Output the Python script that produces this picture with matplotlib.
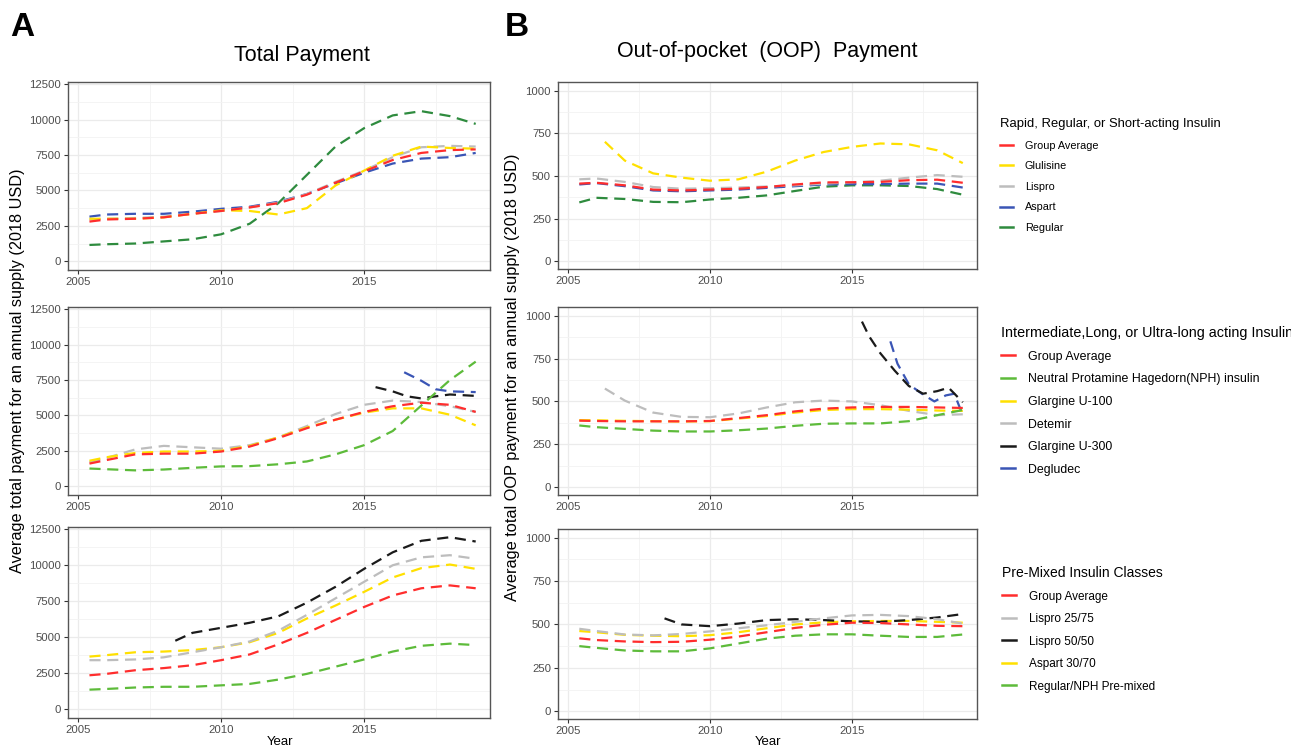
import matplotlib.pyplot as plt
from matplotlib.lines import Line2D
from matplotlib.ticker import FormatStrFormatter

plt.rcParams['font.family'] = ['Liberation Sans', 'DejaVu Sans']

# ---------------------------------------------------------------- data
YEARS = [2005.4, 2006, 2007, 2008, 2009, 2010, 2011, 2012, 2013, 2014, 2015, 2016, 2017, 2018, 2018.9]

RAPID_LABELS = ['Group Average', 'Glulisine', 'Lispro', 'Aspart', 'Regular']
LONG_LABELS = ['Group Average', 'Neutral Protamine Hagedorn(NPH) insulin', 'Glargine U-100',
               'Detemir', 'Glargine U-300', 'Degludec']
PREMIX_LABELS = ['Group Average', 'Lispro 25/75', 'Lispro 50/50', 'Aspart 30/70', 'Regular/NPH Pre-mixed']

# A: total payment (2018 USD)
rapid_total = {
    'Group Average': [2800, 2950, 3000, 3100, 3350, 3550, 3800, 4100, 4700, 5550, 6350, 7150, 7650, 7850, 7900],
    'Glulisine':     [3000, 3000, 3000, 3100, 3350, 3600, 3550, 3300, 3750, 5350, 6400, 7450, 8100, 8000, 7950],
    'Lispro':        [2950, 3000, 3050, 3150, 3350, 3550, 3800, 4150, 4750, 5600, 6400, 7350, 8050, 8150, 8100],
    'Aspart':        [3150, 3300, 3350, 3350, 3500, 3700, 3850, 4200, 4750, 5500, 6250, 6900, 7250, 7350, 7650],
    'Regular':       [1150, 1200, 1250, 1400, 1550, 1900, 2650, 4100, 6100, 8100, 9400, 10300, 10600, 10250, 9700],
}
rapid_total_x = {}

long_total = {
    'Group Average': [1600, 1850, 2250, 2300, 2300, 2450, 2800, 3400, 4100, 4700, 5250, 5650, 5900, 5750, 5250],
    'Neutral Protamine Hagedorn(NPH) insulin':
                    [1250, 1200, 1120, 1180, 1300, 1400, 1420, 1550, 1750, 2250, 2900, 3900, 5700, 7500, 8800],
    'Glargine U-100': [1800, 2050, 2350, 2450, 2450, 2500, 2850, 3450, 4150, 4700, 5200, 5500, 5500, 5050, 4300],
    'Detemir':       [1700, 2000, 2600, 2850, 2750, 2650, 2900, 3450, 4250, 5100, 5750, 6050, 5950, 5650, 5250],
    'Glargine U-300': [7000, 6700, 6350, 6200, 6350, 6480, 6380],
    'Degludec':      [8050, 7450, 6850, 6700, 6650],
}
long_total_x = {
    'Glargine U-300': [2015.4, 2016, 2016.5, 2017, 2017.5, 2018, 2018.9],
    'Degludec': [2016.4, 2017, 2017.5, 2018, 2018.9],
}

premix_total = {
    'Group Average': [2350, 2450, 2700, 2850, 3050, 3400, 3800, 4500, 5300, 6200, 7100, 7900, 8400, 8600, 8400],
    'Lispro 25/75':  [3400, 3400, 3450, 3600, 3950, 4300, 4700, 5450, 6550, 7700, 8850, 10000, 10550, 10700, 10450],
    'Lispro 50/50':  [4750, 5300, 5650, 6000, 6450, 7400, 8500, 9750, 10900, 11700, 11950, 11650],
    'Aspart 30/70':  [3650, 3750, 3950, 4000, 4100, 4300, 4650, 5300, 6300, 7200, 8150, 9150, 9800, 10050, 9750],
    'Regular/NPH Pre-mixed':
                    [1350, 1400, 1500, 1550, 1550, 1650, 1750, 2050, 2450, 2950, 3450, 4000, 4400, 4550, 4450],
}
premix_total_x = {
    'Lispro 50/50': [2008.4, 2009, 2010, 2011, 2012, 2013, 2014, 2015, 2016, 2017, 2018, 2018.9],
}

# B: out-of-pocket payment (2018 USD)
rapid_oop = {
    'Group Average': [455, 460, 445, 420, 415, 420, 425, 435, 450, 462, 463, 465, 475, 478, 460],
    'Glulisine':     [700, 590, 515, 490, 472, 480, 525, 590, 640, 670, 690, 685, 650, 575],
    'Lispro':        [480, 485, 465, 435, 425, 428, 432, 438, 445, 455, 462, 472, 490, 505, 495],
    'Aspart':        [450, 458, 440, 415, 410, 415, 420, 430, 440, 450, 452, 452, 455, 455, 432],
    'Regular':       [345, 372, 365, 348, 346, 362, 372, 386, 412, 437, 445, 445, 441, 423, 390],
}
rapid_oop_x = {
    'Glulisine': [2006.3, 2007, 2008, 2009, 2010, 2011, 2012, 2013, 2014, 2015, 2016, 2017, 2018, 2018.9],
}

long_oop = {
    'Group Average': [388, 386, 384, 384, 384, 386, 403, 420, 442, 458, 465, 468, 468, 465, 462],
    'Neutral Protamine Hagedorn(NPH) insulin':
                    [360, 350, 340, 330, 325, 325, 332, 342, 358, 370, 372, 372, 385, 420, 450],
    'Glargine U-100': [391, 390, 387, 385, 383, 385, 400, 415, 435, 450, 455, 455, 452, 447, 445],
    'Detemir':       [575, 505, 435, 410, 408, 430, 465, 495, 505, 500, 478, 445, 420, 425],
    'Glargine U-300': [965, 880, 780, 680, 590, 545, 560, 580, 495],
    'Degludec':      [850, 720, 600, 540, 500, 535, 545, 420],
}
long_oop_x = {
    'Detemir': [2006.3, 2007, 2008, 2009, 2010, 2011, 2012, 2013, 2014, 2015, 2016, 2017, 2018, 2018.9],
    'Glargine U-300': [2015.35, 2015.6, 2016, 2016.5, 2017, 2017.5, 2018, 2018.4, 2018.9],
    'Degludec': [2016.35, 2016.6, 2017, 2017.5, 2017.9, 2018.3, 2018.6, 2018.9],
}

premix_oop = {
    'Group Average': [420, 410, 402, 398, 400, 412, 430, 455, 480, 498, 510, 508, 500, 492, 490],
    'Lispro 25/75':  [475, 462, 442, 437, 445, 460, 478, 495, 515, 535, 552, 555, 548, 530, 505],
    'Lispro 50/50':  [535, 500, 490, 505, 525, 530, 525, 518, 515, 525, 540, 560],
    'Aspart 30/70':  [462, 455, 440, 435, 432, 438, 455, 478, 500, 512, 518, 520, 520, 515, 510],
    'Regular/NPH Pre-mixed':
                    [375, 365, 350, 345, 345, 362, 390, 418, 435, 443, 443, 435, 428, 428, 442],
}
premix_oop_x = {
    'Lispro 50/50': [2008.4, 2009, 2010, 2011, 2012, 2013, 2014, 2015, 2016, 2017, 2018, 2018.9],
}

# ---------------------------------------------------------------- styles
RED, YELLOW, GREY, BLUE = '#FF2D2D', '#FFE000', '#BDBDBD', '#3A55B5'
DKGREEN, LTGREEN, BLACK = '#2E8B3E', '#5DBB3A', '#1A1A1A'
COLORS = {
    'rapid': {'Group Average': RED, 'Glulisine': YELLOW, 'Lispro': GREY, 'Aspart': BLUE, 'Regular': DKGREEN},
    'long': {'Group Average': RED, 'Neutral Protamine Hagedorn(NPH) insulin': LTGREEN,
             'Glargine U-100': YELLOW, 'Detemir': GREY, 'Glargine U-300': BLACK, 'Degludec': BLUE},
    'premix': {'Group Average': RED, 'Lispro 25/75': GREY, 'Lispro 50/50': BLACK,
               'Aspart 30/70': YELLOW, 'Regular/NPH Pre-mixed': LTGREEN},
}

W, H = 1291, 746
fig = plt.figure(figsize=(W / 100, H / 100), dpi=100)


def box(left, top, right, bottom):
    return [left / W, 1 - bottom / H, (right - left) / W, (bottom - top) / H]


def style_axes(ax, oop):
    ax.set_xlim(2004.65, 2019.4)
    ax.set_xticks([2005, 2010, 2015])
    ax.set_xticks([2007.5, 2012.5, 2017.5], minor=True)
    if oop:
        ax.set_ylim(-45, 1050)
        ax.set_yticks([0, 250, 500, 750, 1000])
        ax.set_yticks([125, 375, 625, 875], minor=True)
    else:
        ax.set_ylim(-620, 12660)
        ax.set_yticks([0, 2500, 5000, 7500, 10000, 12500])
        ax.set_yticks([1250, 3750, 6250, 8750, 11250], minor=True)
    ax.xaxis.set_major_formatter(FormatStrFormatter('%d'))
    ax.yaxis.set_major_formatter(FormatStrFormatter('%d'))
    ax.grid(which='major', color='#EBEBEB', lw=0.9)
    ax.grid(which='minor', color='#F3F3F3', lw=0.6)
    ax.set_axisbelow(True)
    ax.tick_params(which='minor', length=0)
    ax.tick_params(which='major', length=3, width=0.8, color='#333333',
                   labelsize=8.2, labelcolor='#4D4D4D', pad=2)
    for s in ax.spines.values():
        s.set_color('#555555')
        s.set_linewidth(1.0)


def draw(ax, data, xs, colors, labels, lw=1.6):
    for lab in reversed(labels):
        ax.plot(xs.get(lab, YEARS), data[lab], color=colors[lab], lw=lw,
                ls=(0, (5, 3)), solid_capstyle='butt')


def legend(ax, labels, colors, title, top, left, fs, tfs, spacing, hlen, hpad):
    handles = [Line2D([], [], color=colors[l], lw=1.8) for l in labels]
    ax.legend(handles, labels, title=title, loc='upper left',
              bbox_to_anchor=(left / W, 1 - top / H), bbox_transform=fig.transFigure,
              frameon=False, fontsize=fs, title_fontsize=tfs, alignment='left',
              borderpad=0, borderaxespad=0, labelspacing=spacing,
              handlelength=hlen, handletextpad=hpad)


panels = [
    (box(68, 82, 490, 270), rapid_total, rapid_total_x, 'rapid', RAPID_LABELS, False),
    (box(68, 307, 490, 495), long_total, long_total_x, 'long', LONG_LABELS, False),
    (box(68, 527, 490, 718), premix_total, premix_total_x, 'premix', PREMIX_LABELS, False),
    (box(558, 82, 977, 269), rapid_oop, rapid_oop_x, 'rapid', RAPID_LABELS, True),
    (box(558, 307, 977, 495), long_oop, long_oop_x, 'long', LONG_LABELS, True),
    (box(558, 529, 977, 719), premix_oop, premix_oop_x, 'premix', PREMIX_LABELS, True),
]
axes = []
for rect, data, xs, group, labels, oop in panels:
    ax = fig.add_axes(rect)
    style_axes(ax, oop)
    draw(ax, data, xs, COLORS[group], labels)
    axes.append(ax)

legend(axes[3], RAPID_LABELS, COLORS['rapid'], 'Rapid, Regular, or Short-acting Insulin',
       118, 1000, 7.8, 9.4, 0.98, 1.2, 1.1)
legend(axes[4], LONG_LABELS, COLORS['long'], 'Intermediate,Long, or Ultra-long acting Insulin',
       326, 1001, 8.9, 10.4, 0.86, 1.1, 1.1)
legend(axes[5], PREMIX_LABELS, COLORS['premix'], 'Pre-Mixed Insulin Classes',
       566, 1002, 8.5, 10.0, 0.89, 1.15, 1.1)

fig.text(22 / W, 1 - 27 / H, 'A', fontsize=24, fontweight='bold', ha='center', va='center')
fig.text(517 / W, 1 - 27 / H, 'B', fontsize=24, fontweight='bold', ha='center', va='center')
fig.text(302 / W, 1 - 55 / H, 'Total Payment', fontsize=15.5, ha='center', va='center')
fig.text(767 / W, 1 - 52 / H, 'Out-of-pocket  (OOP)  Payment', fontsize=15.5, ha='center', va='center')
fig.text(18 / W, 1 - 371 / H, 'Average total payment for an annual supply (2018 USD)',
         fontsize=11.7, rotation=90, ha='center', va='center')
fig.text(513 / W, 1 - 377 / H, 'Average total OOP payment for an annual supply (2018 USD)',
         fontsize=11.8, rotation=90, ha='center', va='center')
fig.text(280 / W, 1 - 736 / H, 'Year', fontsize=9.5, ha='center', va='top')
fig.text(768 / W, 1 - 736 / H, 'Year', fontsize=9.5, ha='center', va='top')

fig.savefig('out.png', dpi=100)
